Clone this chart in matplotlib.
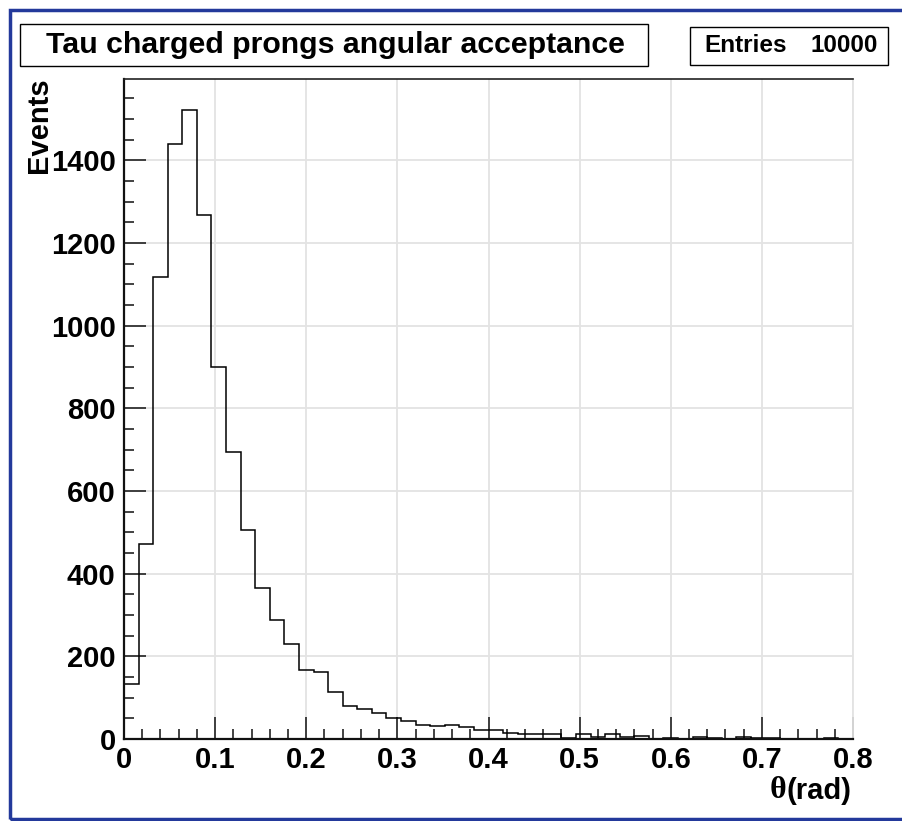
import matplotlib.pyplot as plt
import numpy as np
from matplotlib.patches import Rectangle
from matplotlib.ticker import MultipleLocator

# theta bins: 50 bins from 0 to 0.8 rad
bin_edges = np.linspace(0, 0.8, 51)
counts = [133, 471, 1119, 1439, 1521, 1269, 899, 694, 505, 366,
          289, 231, 168, 161, 114, 80, 73, 62, 51, 43,
          35, 32, 35, 29, 22, 22, 14, 13, 13, 13,
          3, 13, 6, 11, 5, 7, 1, 3, 1, 6,
          3, 1, 4, 2, 2, 0, 1, 0, 2, 1]
title = 'Tau charged prongs angular acceptance'
entries = 10000

plt.rcParams['font.family'] = ['Liberation Sans', 'DejaVu Sans']
plt.rcParams['font.weight'] = 'bold'

W, H = 903, 821
fig = plt.figure(figsize=(W / 100, H / 100), dpi=100)
ax = fig.add_axes([124 / W, 1 - 739 / H, (853 - 124) / W, (739 - 79) / H])

ax.stairs(counts, bin_edges, color='black', linewidth=1.1)

ax.set_xlim(0, 0.8)
ax.set_ylim(0, 1.05 * max(counts))

ax.xaxis.set_major_locator(MultipleLocator(0.1))
ax.xaxis.set_minor_locator(MultipleLocator(0.02))
ax.yaxis.set_major_locator(MultipleLocator(200))
ax.yaxis.set_minor_locator(MultipleLocator(50))
ax.xaxis.set_major_formatter(lambda v, p: '0' if abs(v) < 1e-9 else f'{v:.1f}')

ax.grid(True, which='major', color='#e3e3e3', linewidth=1.3)
ax.set_axisbelow(True)

ax.tick_params(which='both', direction='in', top=False, right=False,
               labelsize=21, width=1.2, color='#222222')
ax.tick_params(which='major', length=16)
ax.tick_params(which='minor', length=7.5)
ax.tick_params(axis='x', pad=5)
ax.tick_params(axis='y', pad=6)
for lab in ax.get_xticklabels() + ax.get_yticklabels():
    lab.set_fontweight('bold')

for s in ['left', 'bottom']:
    ax.spines[s].set_linewidth(1.6)
    ax.spines[s].set_color('#111111')
ax.spines['top'].set_linewidth(1.2)
ax.spines['top'].set_color('#222222')
ax.spines['right'].set_linewidth(1.3)
ax.spines['right'].set_color('#e3e3e3')

# axis titles
fig.text(39 / W, 1 - 77 / H, 'Events', rotation=90, ha='center', va='top',
         fontsize=21, fontweight='bold')
fig.text(852 / W, 1 - 791 / H, '(rad)', ha='right', va='center',
         fontsize=21, fontweight='bold')
fig.text(786 / W, 1 - 790 / H, 'θ', ha='right', va='center',
         fontsize=23, fontweight='bold', family=['Liberation Serif', 'DejaVu Serif'])

# title box
fig.patches.append(Rectangle((20 / W, 1 - 66 / H), 628 / W, 42 / H,
                             transform=fig.transFigure, fill=False,
                             edgecolor='black', linewidth=1.0))
fig.text(335 / W, 1 - 45 / H, title, ha='center', va='center',
         fontsize=21.8, fontweight='bold')

# stats box
fig.patches.append(Rectangle((690 / W, 1 - 65 / H), 198 / W, 38 / H,
                             transform=fig.transFigure, fill=False,
                             edgecolor='black', linewidth=1.0))
fig.text(704 / W, 1 - 46 / H, 'Entries', ha='left', va='center',
         fontsize=17.5, fontweight='bold')
fig.text(878 / W, 1 - 46 / H, f'{entries}', ha='right', va='center',
         fontsize=17.5, fontweight='bold')

# canvas border
fig.patches.append(Rectangle((10 / W, 1 - 819 / H), 900 / W, 809 / H,
                             transform=fig.transFigure, fill=False,
                             edgecolor='#23399b', linewidth=2.5))

fig.savefig('out.png', dpi=100)
